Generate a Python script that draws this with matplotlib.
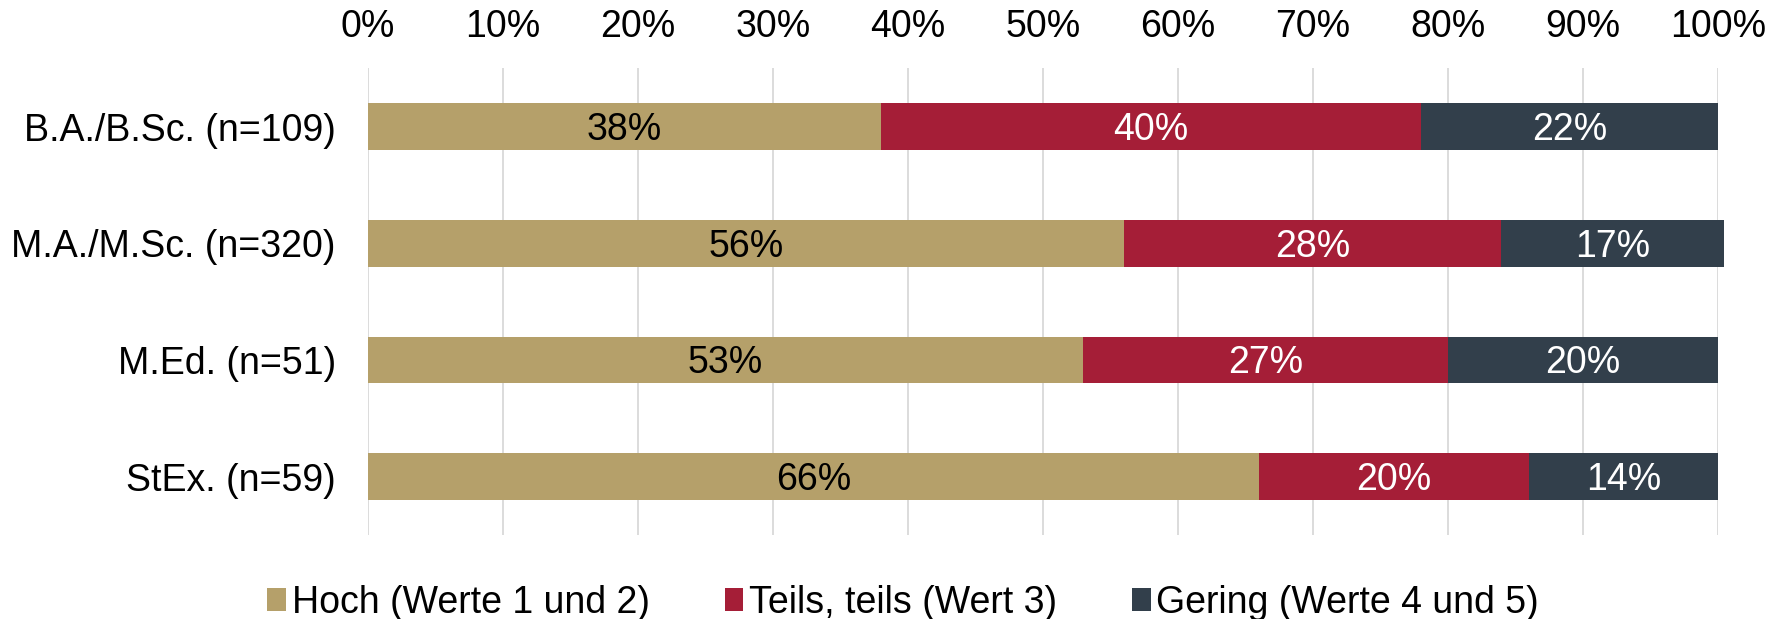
import matplotlib
matplotlib.use("Agg")
import matplotlib.pyplot as plt
import numpy as np

plt.rcParams['font.family'] = ['Liberation Sans', 'DejaVu Sans']

categories = ["B.A./B.Sc. (n=109)", "M.A./M.Sc. (n=320)", "M.Ed. (n=51)", "StEx. (n=59)"]
series_names = ["Hoch (Werte 1 und 2)", "Teils, teils (Wert 3)", "Gering (Werte 4 und 5)"]
hoch = [38, 56.0, 53, 66]
teils = [40, 27.95, 27, 20]
gering = [22, 16.5, 20, 14]
colors = ["#B5A06A", "#A51E37", "#323F4B"]
text_colors = ["black", "white", "white"]
x_ticks = [0, 10, 20, 30, 40, 50, 60, 70, 80, 90, 100]

FS = 27

fig = plt.figure(figsize=(17.85, 6.19), dpi=100)
ax = fig.add_axes([0.206, 0.1357, 0.7564, 0.754])

y = np.arange(len(categories))
left = np.zeros(len(categories))
for vals, name, col, tcol in zip([hoch, teils, gering], series_names, colors, text_colors):
    vals = np.array(vals, dtype=float)
    ax.barh(y, vals, left=left, height=0.4, color=col, label=name, zorder=3,
            clip_on=False)
    for yi, l, v in zip(y, left, vals):
        ax.annotate(f"{int(np.floor(v + 0.5))}%", xy=(l + v / 2, yi),
                    xytext=(0, -0.36 * FS), textcoords="offset points",
                    ha="center", va="baseline", color=tcol, fontsize=FS, zorder=4)
    left += vals

ax.set_ylim(3.5, -0.5)
ax.set_xlim(0, 100)
ax.set_yticks(y)
ax.set_yticklabels(categories, fontsize=FS)
ax.set_xticks(x_ticks)
ax.set_xticklabels([f"{t}%" for t in x_ticks], fontsize=FS)
ax.xaxis.tick_top()
ax.tick_params(axis="both", length=0)
ax.tick_params(axis="x", pad=17)
ax.tick_params(axis="y", pad=23)
ax.grid(axis="x", color="#D9D9D9", linewidth=1.3, zorder=0)
for s in ax.spines.values():
    s.set_visible(False)

leg = fig.legend(loc="lower center", bbox_to_anchor=(0.506, -0.057), ncol=3, frameon=False,
                 fontsize=FS, handlelength=0.5, handleheight=0.55, handletextpad=0.15,
                 columnspacing=2.0)

fig.savefig("out.png", dpi=100)
